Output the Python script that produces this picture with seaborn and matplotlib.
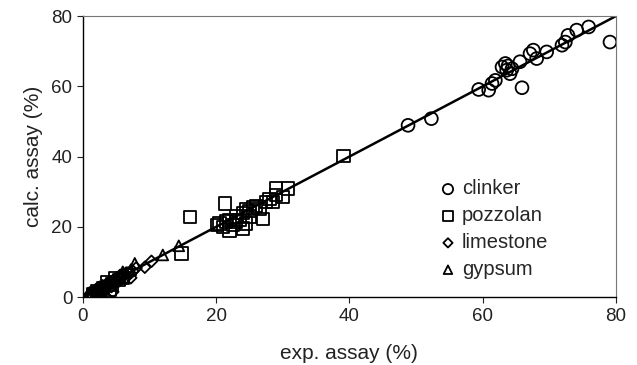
import pandas as pd
import seaborn as sns
import matplotlib.pyplot as plt

# nilai (exp. assay vs calc. assay, %)
clinker_exp = [48.8, 52.3, 59.4, 60.9, 61.4, 61.9, 62.9, 63.4, 63.6, 64.1, 63.8, 64.4,
               65.6, 65.9, 67.1, 67.6, 68.1, 69.6, 71.9, 72.4, 72.8, 74.1, 75.9, 79.1]
clinker_calc = [48.9, 50.8, 59.1, 58.9, 60.8, 61.7, 65.5, 66.5, 64.6, 63.6, 65.8, 65.0,
                67.0, 59.6, 69.3, 70.3, 67.9, 69.8, 71.7, 72.6, 74.5, 76.0, 76.9, 72.6]

pozzolan_exp = [1.5, 2.2, 2.6, 3.0, 3.6, 4.0, 4.4, 4.9, 5.4, 6.0, 14.8, 16.1, 20.1, 20.5,
                21.0, 21.3, 21.5, 22.0, 22.0, 22.5, 23.0, 23.0, 23.5, 24.0, 24.0, 24.5,
                24.5, 25.0, 25.0, 25.5, 26.0, 26.5, 27.0, 27.5, 28.0, 28.5, 29.0, 29.0,
                30.0, 30.8, 39.1]
pozzolan_calc = [0.8, 1.8, 1.2, 2.6, 4.2, 2.0, 3.6, 5.5, 4.8, 5.5, 12.4, 22.8, 20.5, 21.0,
                 20.0, 26.6, 21.5, 19.0, 22.0, 20.5, 21.5, 23.0, 22.0, 19.5, 24.0, 21.0,
                 25.0, 23.0, 24.5, 25.5, 26.0, 25.0, 22.3, 27.0, 28.0, 27.0, 31.0, 29.0,
                 28.5, 30.9, 40.1]

limestone_exp = [1.0, 1.2, 1.5, 1.8, 2.0, 2.3, 2.5, 2.8, 3.0, 3.2, 3.5, 3.8, 4.0, 4.3,
                 4.5, 4.6, 5.0, 5.3, 5.6, 5.8, 6.2, 6.5, 6.8, 7.2, 7.5, 8.0, 9.3, 10.3]
limestone_calc = [0.6, 1.0, 1.6, 1.5, 2.2, 1.2, 2.8, 2.5, 3.2, 2.0, 3.6, 3.4, 4.3, 3.0,
                  1.5, 4.8, 5.2, 4.4, 6.2, 6.0, 6.5, 5.6, 6.9, 5.5, 7.4, 8.3, 8.5, 10.2]

gypsum_exp = [0.8, 1.0, 1.4, 1.9, 2.4, 2.9, 3.4, 3.9, 4.4, 5.1, 5.6, 6.0, 6.5, 7.2, 7.8,
              12.0, 14.4]
gypsum_calc = [0.9, 1.3, 1.2, 2.0, 2.6, 3.3, 3.1, 4.2, 4.6, 5.6, 5.4, 7.2, 7.0, 7.8, 9.6,
               12.0, 14.6]

df = pd.concat([
    pd.DataFrame({'exp': clinker_exp, 'calc': clinker_calc, 'jenis': 'clinker'}),
    pd.DataFrame({'exp': pozzolan_exp, 'calc': pozzolan_calc, 'jenis': 'pozzolan'}),
    pd.DataFrame({'exp': limestone_exp, 'calc': limestone_calc, 'jenis': 'limestone'}),
    pd.DataFrame({'exp': gypsum_exp, 'calc': gypsum_calc, 'jenis': 'gypsum'}),
])

sns.set_style("ticks")
plt.rcParams['font.family'] = ['Liberation Sans', 'DejaVu Sans']

fig, ax = plt.subplots(figsize=(6.37, 3.65), dpi=100)
fig.subplots_adjust(left=0.130, right=0.967, top=0.956, bottom=0.186)

# garis y = x
ax.plot([0, 80], [0, 80], color='black', lw=1.8, zorder=1)

penanda = {'clinker': ('o', 85), 'pozzolan': ('s', 80), 'limestone': ('D', 35), 'gypsum': ('^', 60)}
for jenis, (m, s) in penanda.items():
    sub = df[df['jenis'] == jenis]
    sns.scatterplot(x='exp', y='calc', data=sub, marker=m, s=s, facecolors='none',
                    edgecolor='black', linewidth=1.3, label=jenis, ax=ax, zorder=2)

ax.set_xlim(0, 80)
ax.set_ylim(0, 80)
ax.set_xticks([0, 20, 40, 60, 80])
ax.set_yticks([0, 20, 40, 60, 80])
ax.tick_params(labelsize=13.5, colors='#222222', length=4)
ax.set_xlabel("exp. assay (%)", fontsize=15, color='#222222', labelpad=14)
ax.set_ylabel("calc. assay (%)", fontsize=15, color='#222222', labelpad=6)
for side in ['left', 'bottom']:
    ax.spines[side].set_color('black')
    ax.spines[side].set_linewidth(1.0)
for side in ['top', 'right']:
    ax.spines[side].set_color('#777777')
    ax.spines[side].set_linewidth(0.8)

ax.legend(loc='lower left', bbox_to_anchor=(0.632, 0.0), frameon=False, fontsize=14.5,
          handlelength=1.0, handletextpad=0.2, labelspacing=0.39, markerscale=0.8)

plt.savefig('out.png', dpi=100)
